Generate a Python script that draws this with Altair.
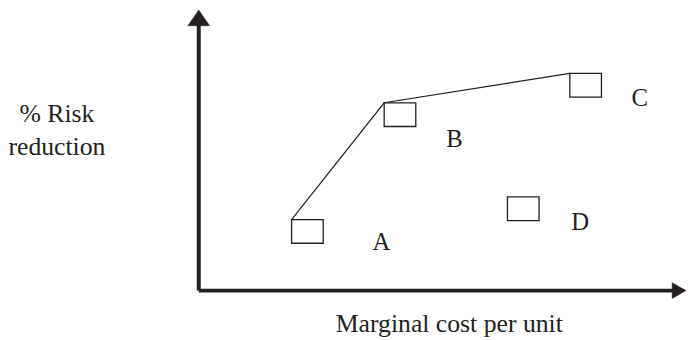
import altair as alt
import pandas as pd

# Projects: marginal cost (x) vs % risk reduction (y), box centres
names = ["A", "B", "C", "D"]
cost = [22.3, 41.3, 79.4, 66.6]
risk = [21.1, 62.7, 73.2, 29.2]
# label anchor positions (data units)
label_cost = [37.5, 52.5, 90.5, 78.3]
label_risk = [17.3, 53.9, 68.7, 24.3]
# efficient frontier joins A, B, C
frontier = ["A", "B", "C"]

x_title = "Marginal cost per unit"
y_title = ["% Risk", "reduction"]

INK = "#231f20"
FONT = "Liberation Serif"

pts = pd.DataFrame({"name": names, "cost": cost, "risk": risk,
                    "lx": label_cost, "ly": label_risk})
front = pts[pts["name"].isin(frontier)]

axes_df = pd.DataFrame({"x0": [0, 0], "x1": [0, 98], "y0": [0, 0], "y1": [95, 0]})
tips_y = pd.DataFrame({"cost": [0], "risk": [100]})
tips_x = pd.DataFrame({"cost": [100], "risk": [0]})

xs = alt.Scale(domain=[0, 100], nice=False, zero=False)
ys = alt.Scale(domain=[0, 100], nice=False, zero=False)

x_axis = alt.Axis(domain=False, ticks=False, labels=False, grid=False,
                  title=x_title, titleFont=FONT, titleFontSize=26,
                  titleFontWeight="normal", titleColor=INK,
                  titleX=253, titleY=41, titleAlign="center",
                  titleBaseline="alphabetic", titleAnchor="middle")
y_axis = alt.Axis(domain=False, ticks=False, labels=False, grid=False,
                  title=y_title, titleFont=FONT, titleFontSize=26,
                  titleFontWeight="normal", titleColor=INK, titleAngle=0,
                  titleX=-144, titleY=113, titleAlign="center",
                  titleBaseline="alphabetic", titleLineHeight=33)


def X(f):
    return alt.X(f, type="quantitative", scale=xs, axis=x_axis)


def Y(f):
    return alt.Y(f, type="quantitative", scale=ys, axis=y_axis)


axis_lines = alt.Chart(axes_df).mark_rule(color=INK, strokeWidth=4).encode(
    x=X("x0"), x2="x1", y=Y("y0"), y2="y1")

arrow_y = alt.Chart(tips_y).mark_point(
    shape="M0,0L0.6875,1L-0.6875,1Z", size=1024, filled=True,
    fill=INK, stroke=INK, strokeWidth=0.5, opacity=1).encode(x=X("cost"), y=Y("risk"))

arrow_x = alt.Chart(tips_x).mark_point(
    shape="M0,0L-1,-0.5714L-1,0.5714Z", size=784, filled=True,
    fill=INK, stroke=INK, strokeWidth=0.5, opacity=1).encode(x=X("cost"), y=Y("risk"))

line = alt.Chart(front).mark_line(color=INK, strokeWidth=1.2,
                                  xOffset=-16, yOffset=-12).encode(
    x=X("cost"), y=Y("risk"), order="cost")

boxes = alt.Chart(pts).mark_point(
    shape="M-1,-0.75L1,-0.75L1,0.75L-1,0.75Z", size=1024, filled=False,
    stroke=INK, strokeWidth=1.3, opacity=1).encode(x=X("cost"), y=Y("risk"))

labels = alt.Chart(pts).mark_text(font=FONT, fontSize=25, color=INK,
                                  align="center", baseline="middle").encode(
    x=X("lx"), y=Y("ly"), text="name")

chart = alt.layer(axis_lines, line, boxes, labels, arrow_y, arrow_x).properties(
    width=493, height=284,
    autosize=alt.AutoSizeParams(type="none"),
    padding={"left": 193, "top": 0, "right": 0, "bottom": 48},
    background="white",
).configure_view(stroke=None)

chart.save("out.html", embed_options={"renderer": "svg", "actions": False})
